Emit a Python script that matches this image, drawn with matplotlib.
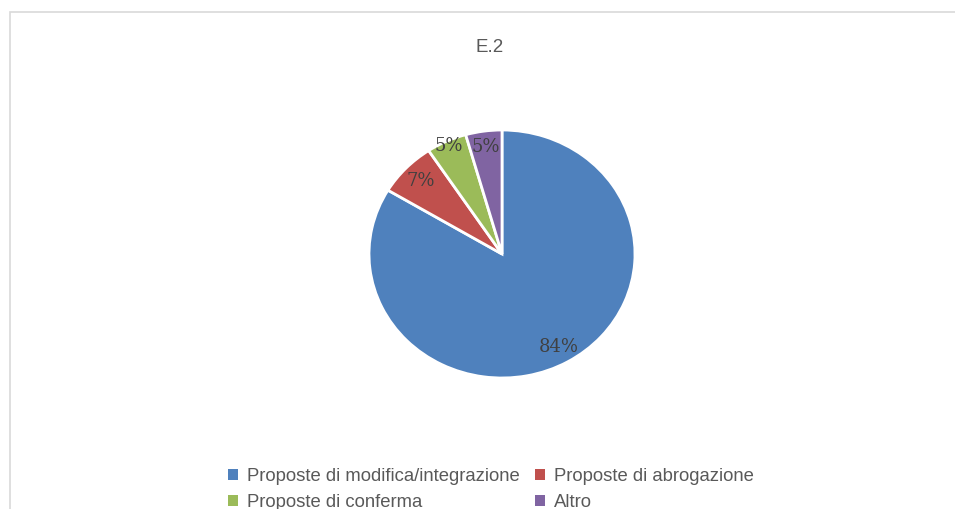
import numpy as np
import matplotlib
matplotlib.use("Agg")
import matplotlib.pyplot as plt
from matplotlib.patches import Rectangle

# slice values (percent of total)
categories = ["Proposte di modifica/integrazione", "Proposte di abrogazione",
              "Proposte di conferma", "Altro"]
values = [83.6, 7.1, 4.9, 4.4]
pct_labels = ["84%", "7%", "5%", "5%"]
colors = ["#4F81BD", "#C0504D", "#9BBB59", "#8064A2"]

W, H = 955, 509
fig = plt.figure(figsize=(W / 100, H / 100), dpi=100)

# light chart-area frame (right and bottom edges fall outside the image)
fig.patches.append(Rectangle((10 / W, -0.05), 1.05, 1 - 12 / H + 0.05,
                             transform=fig.transFigure, fill=False,
                             edgecolor="#D9D9D9", linewidth=1.2))

fig.text(490 / W, 1 - 47 / H, "E.2", ha="center", va="center",
         fontsize=13.5, color="#595959", family="Liberation Sans")

# pie is slightly wider than tall in the reference
cx, cy, rx, ry = 502, 254, 133, 124
ax = fig.add_axes([(cx - rx) / W, 1 - (cy + ry) / H, 2 * rx / W, 2 * ry / H])
wedges, _ = ax.pie(values, colors=colors, startangle=90, counterclock=False,
                   wedgeprops=dict(edgecolor="white", linewidth=2))
ax.set_aspect("auto")
ax.set_xlim(-1, 1)
ax.set_ylim(-1, 1)
ax.axis("off")

radii = [0.86, 0.85, 0.96, 0.87]
for w, lab, r in zip(wedges, pct_labels, radii):
    ang = np.deg2rad((w.theta1 + w.theta2) / 2)
    ax.text(r * np.cos(ang), r * np.sin(ang), lab, ha="center", va="center",
            fontsize=13, color="#404040", family="DejaVu Serif")

order = [0, 2, 1, 3]
leg = fig.legend([wedges[i] for i in order], [categories[i] for i in order],
                 ncol=2, loc="upper center", bbox_to_anchor=(0.514, 1 - 451 / H),
                 frameon=False, handlelength=0.55, handleheight=0.55,
                 handletextpad=0.45, columnspacing=0.85, labelspacing=0.5,
                 prop=dict(family="Liberation Sans", size=13.3))
for t in leg.get_texts():
    t.set_color("#595959")
for h in leg.legend_handles:
    h.set_edgecolor("none")

fig.savefig("out.png", dpi=100)
